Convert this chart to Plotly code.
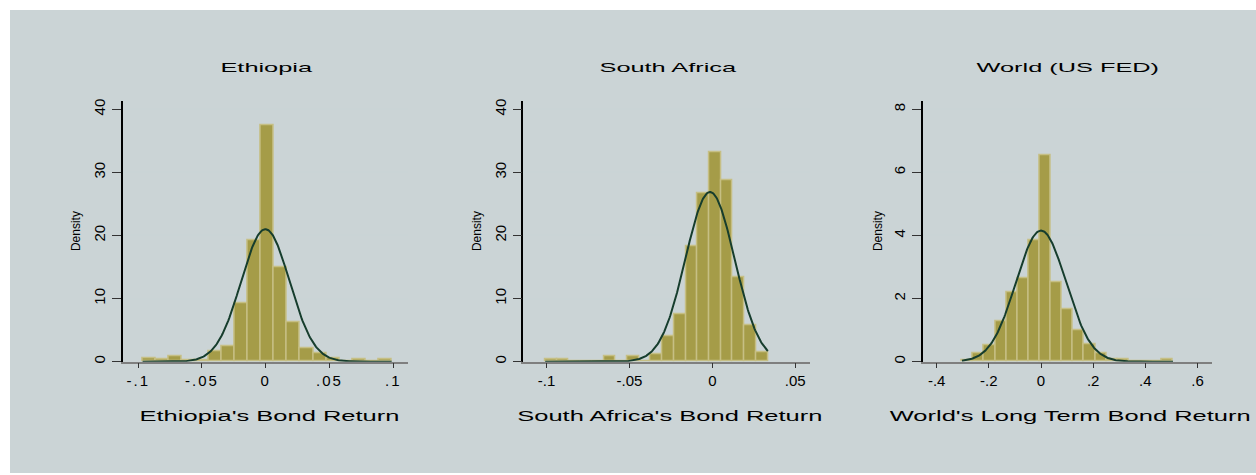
import numpy as np
import plotly.graph_objects as go

W, H = 1256, 475

# ---------------- data ----------------
eth_bin_start = -0.0966
eth_bin_width = 0.0103
eth_density = [0.58, 0.37, 0.84, 0.31, 0.2, 1.6, 2.4, 9.2, 19.3, 37.5,
               15.0, 6.3, 2.2, 1.4, 0.6, 0.05, 0.35, 0.0, 0.37]
eth_mean, eth_sd = -0.0003, 0.0190
eth_min, eth_max = -0.0966, 0.0988

sa_bin_start = -0.1008
sa_bin_width = 0.00707
sa_density = [0.42, 0.42, 0.0, 0.0, 0.0, 0.94, 0.0, 0.94, 0.0, 1.26,
              3.98, 7.6, 18.3, 26.7, 33.2, 28.7, 13.4, 5.8, 1.5]
sa_mean, sa_sd = -0.0014, 0.01483
sa_min, sa_max = -0.1008, 0.0335

wd_bin_start = -0.303
wd_bin_width = 0.04257
wd_density = [0.06, 0.26, 0.52, 1.27, 2.21, 2.64, 3.84, 6.55, 2.52, 1.67,
              1.0, 0.57, 0.26, 0.08, 0.07, 0.01, 0.0, 0.0, 0.08]
wd_mean, wd_sd = 0.0, 0.096
wd_min, wd_max = -0.303, 0.506

titles = ["Ethiopia", "South Africa", "World (US FED)"]
xtitles = ["Ethiopia's Bond Return", "South Africa's Bond Return",
           "World's Long Term Bond Return"]
eth_xticks = [-0.1, -0.05, 0, 0.05, 0.1]
eth_xticklabels = ["-.1", "-.05", "0", ".05", ".1"]
sa_xticks = [-0.1, -0.05, 0, 0.05]
sa_xticklabels = ["-.1", "-.05", "0", ".05"]
wd_xticks = [-0.4, -0.2, 0, 0.2, 0.4, 0.6]
wd_xticklabels = ["-.4", "-.2", "0", ".2", ".4", ".6"]
eth_yticks = [0, 10, 20, 30, 40]
sa_yticks = [0, 10, 20, 30, 40]
wd_yticks = [0, 2, 4, 6, 8]

# ---------------- styles ----------------
FONT = "Liberation Sans, Arial, sans-serif"
BAR_FILL = "#A59C48"
BAR_LINE = "#C6BF84"
CURVE = "#163D2D"
PANEL = "#CBD4D6"
PLOTBG = "#E5E5E5"
GRID = "#CAD4D6"

fig = go.Figure()

panels = [
    dict(start=eth_bin_start, w=eth_bin_width, dens=eth_density, mu=eth_mean, sd=eth_sd,
         lo=eth_min, hi=eth_max, xt=eth_xticks, xtl=eth_xticklabels, yt=eth_yticks,
         xdom=(122.7, 408.0), xr=(-0.1122, 0.1116), yr=(0, 41.3)),
    dict(start=sa_bin_start, w=sa_bin_width, dens=sa_density, mu=sa_mean, sd=sa_sd,
         lo=sa_min, hi=sa_max, xt=sa_xticks, xtl=sa_xticklabels, yt=sa_yticks,
         xdom=(523.3, 810.0), xr=(-0.114, 0.0589), yr=(0, 41.3)),
    dict(start=wd_bin_start, w=wd_bin_width, dens=wd_density, mu=wd_mean, sd=wd_sd,
         lo=wd_min, hi=wd_max, xt=wd_xticks, xtl=wd_xticklabels, yt=wd_yticks,
         xdom=(922.7, 1211.7), xr=(-0.4536, 0.6545), yr=(0, 8.26)),
]

y_top_px, y_bot_px = 100.0, 362.7
ydom = [1 - y_bot_px / H, 1 - y_top_px / H]

title_x = [267, 668, 1068]
xtitle_x = [269, 670, 1070]
dens_x = [76, 477, 878]

annotations = []
layout_axes = {}
for i, p in enumerate(panels):
    sfx = "" if i == 0 else str(i + 1)
    xa, ya = "x" + sfx, "y" + sfx
    n = len(p["dens"])
    centers = p["start"] + p["w"] * (np.arange(n) + 0.5)
    fig.add_trace(go.Bar(x=centers, y=p["dens"], width=p["w"], xaxis=xa, yaxis=ya,
                         marker=dict(color=BAR_FILL, line=dict(color=BAR_LINE, width=1.5)),
                         showlegend=False))
    xs = np.linspace(p["lo"], p["hi"], 300)
    ys = np.exp(-0.5 * ((xs - p["mu"]) / p["sd"]) ** 2) / (p["sd"] * np.sqrt(2 * np.pi))
    fig.add_trace(go.Scatter(x=xs, y=ys, mode="lines", xaxis=xa, yaxis=ya,
                             line=dict(color=CURVE, width=2), showlegend=False))
    layout_axes["xaxis" + sfx] = dict(
        domain=[p["xdom"][0] / W, p["xdom"][1] / W], anchor=ya, range=list(p["xr"]),
        tickmode="array", tickvals=p["xt"], ticktext=p["xtl"], showgrid=False,
        zeroline=False, showline=True, linecolor="#7F7F7F", linewidth=1.5,
        ticks="outside", ticklen=5, tickwidth=1.2, tickcolor="#333333",
        tickfont=dict(family=FONT, size=15, color="black"))
    layout_axes["yaxis" + sfx] = dict(
        domain=ydom, anchor=xa, range=list(p["yr"]), tickmode="array",
        tickvals=p["yt"], ticktext=[str(v) for v in p["yt"]],
        showgrid=True, gridcolor=GRID, gridwidth=1.5, zeroline=False,
        showline=True, linecolor="black", linewidth=1.5,
        ticks="outside", ticklen=9, tickwidth=1.2, tickcolor="#333333",
        tickangle=-90, ticklabelstandoff=1,
        tickfont=dict(family=FONT, size=15, color="black"))

for i in range(3):
    annotations.append(dict(text=titles[i], x=title_x[i] / W, y=1 - 66 / H, xref="paper",
                            yref="paper", xanchor="center", yanchor="middle", showarrow=False,
                            font=dict(family=FONT, size=13, color="black")))
for i in range(3):
    annotations.append(dict(text=xtitles[i], x=xtitle_x[i] / W, y=1 - 417 / H, xref="paper",
                            yref="paper", xanchor="center", yanchor="middle", showarrow=False,
                            font=dict(family=FONT, size=15, color="black")))
for i in range(3):
    annotations.append(dict(text="Density", x=dens_x[i] / W, y=1 - 231 / H, xref="paper",
                            yref="paper", xanchor="center", yanchor="middle", showarrow=False,
                            textangle=-90, font=dict(family=FONT, size=12, color="black")))

fig.update_layout(
    width=W, height=H, margin=dict(l=0, r=0, t=0, b=0),
    paper_bgcolor="white", plot_bgcolor=PLOTBG, bargap=0,
    annotations=annotations,
    shapes=[dict(type="rect", xref="paper", yref="paper", x0=10 / W, x1=1.0,
                 y0=0, y1=1 - 8 / H, fillcolor=PANEL, line=dict(width=0), layer="below")],
    **layout_axes,
)

css = (
    'g.annotation[data-index="0"] text, g.annotation[data-index="1"] text, '
    'g.annotation[data-index="2"] text {transform-box: fill-box; transform-origin: center; '
    'transform: scaleX(1.95);} '
    'g.annotation[data-index="3"] text, g.annotation[data-index="4"] text, '
    'g.annotation[data-index="5"] text {transform-box: fill-box; transform-origin: center; '
    'transform: scaleX(1.7);} '
    '.xtick text {letter-spacing: 2px;}'
)
post = ("var s=document.createElement('style');s.textContent=" + repr(css) +
        ";document.head.appendChild(s);")

fig.write_html("out.html", post_script=post)
